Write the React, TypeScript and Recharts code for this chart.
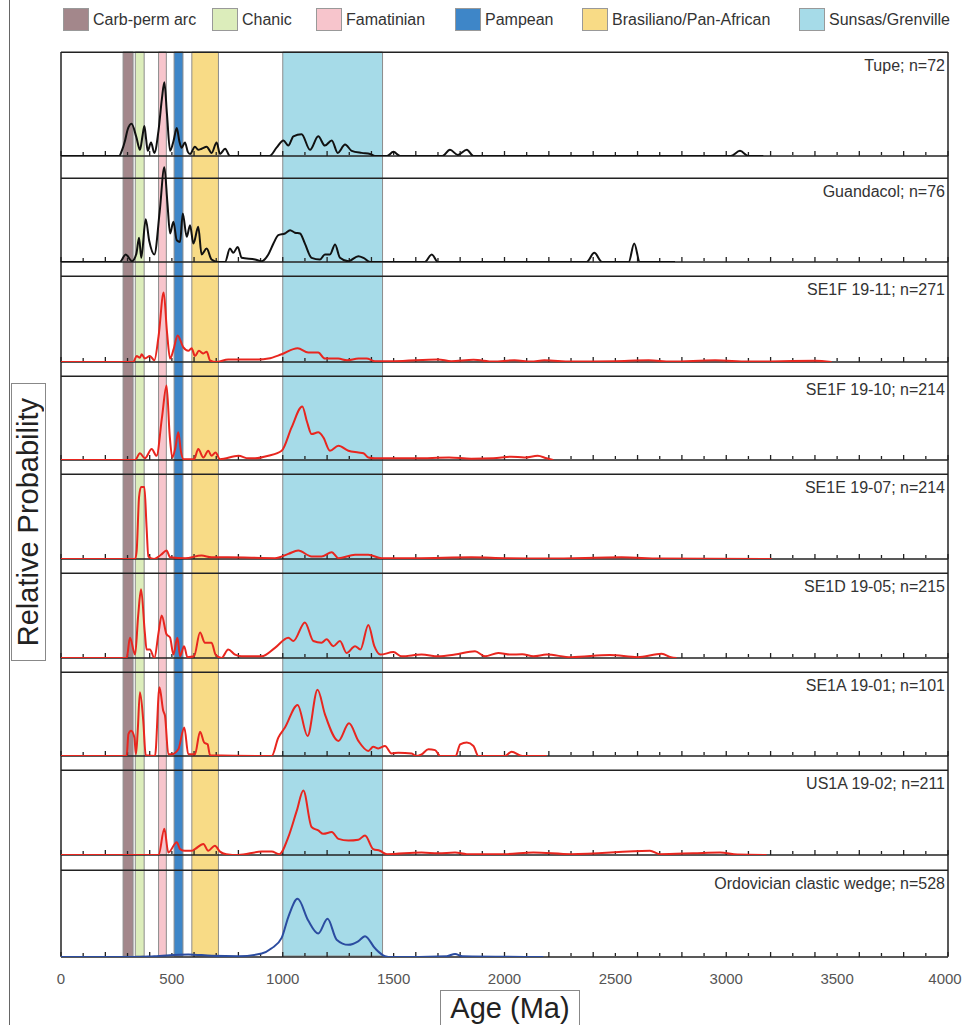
import {
    ComposedChart, LineChart, Line, XAxis, YAxis,
    ReferenceArea, ReferenceLine,
} from "recharts";

// age bands (Ma)
const bandNames = ["Carb-perm arc", "Chanic", "Famatinian", "Pampean", "Brasiliano/Pan-African", "Sunsas/Grenville"];
const bandFrom = [280, 335, 440, 510, 590, 1000];
const bandTo = [325, 375, 475, 550, 710, 1450];
const bandColors = ["#a3878b", "#dcedbb", "#f7c5cc", "#3e86c8", "#f8db86", "#a6dbe8"];

const ageLabels = [0, 500, 1000, 1500, 2000, 2500, 3000, 3500, 4000];
const majorTicks = [0, 200, 400, 600, 800, 1000, 1200, 1400, 1600, 1800, 2000, 2200, 2400, 2600, 2800, 3000, 3200, 3400, 3600, 3800, 4000];
const minorTicks = [100, 300, 500, 700, 900, 1100, 1300, 1500, 1700, 1900, 2100, 2300, 2500, 2700, 2900, 3100, 3300, 3500, 3700, 3900];

// probability density curves, [age Ma, relative probability]
const tupe: [number, number][] = [[0, 0], [262, 0], [274, 0.05], [289, 0.15], [300, 0.25], [318, 0.31], [340, 0.18], [356, 0.06], [368, 0.2], [376, 0.29], [384, 0.16], [391, 0.05], [406, 0.13], [421, 0.03], [440, 0.25], [455, 0.55], [466, 0.71], [478, 0.4], [492, 0.05], [508, 0.15], [522, 0.27], [534, 0.14], [544, 0.08], [559, 0.13], [572, 0.04], [582, 0.02], [604, 0.09], [619, 0.06], [634, 0.07], [657, 0.09], [679, 0.03], [702, 0.13], [717, 0.02], [740, 0.07], [762, 0], [940, 0], [972, 0.08], [1003, 0.15], [1025, 0.1], [1048, 0.19], [1085, 0.21], [1123, 0.06], [1160, 0.19], [1190, 0.1], [1221, 0.15], [1248, 0.03], [1281, 0.11], [1311, 0.05], [1356, 0.03], [1394, 0.02], [1416, 0], [1470, 0], [1499, 0.04], [1530, 0], [1720, 0], [1754, 0.06], [1790, 0.01], [1830, 0.06], [1860, 0], [3020, 0], [3062, 0.05], [3100, 0], [3167, 0]];
const guandacol: [number, number][] = [[0, 0], [265, 0], [292, 0.09], [320, 0.01], [340, 0.1], [352, 0.29], [362, 0.05], [382, 0.51], [398, 0.25], [421, 0.09], [445, 0.6], [466, 1.13], [480, 0.7], [492, 0.34], [507, 0.48], [522, 0.26], [537, 0.24], [549, 0.58], [567, 0.3], [582, 0.44], [597, 0.22], [619, 0.42], [634, 0.09], [657, 0.16], [679, 0.03], [710, 0], [740, 0], [762, 0.16], [777, 0.11], [797, 0.18], [815, 0.05], [875, 0.03], [905, 0.01], [935, 0.09], [958, 0.22], [980, 0.32], [1010, 0.34], [1033, 0.38], [1055, 0.35], [1078, 0.34], [1100, 0.22], [1130, 0.05], [1168, 0.03], [1190, 0.09], [1213, 0.09], [1236, 0.21], [1258, 0.05], [1296, 0.01], [1341, 0.07], [1364, 0.05], [1394, 0], [1640, 0], [1672, 0.09], [1700, 0], [2370, 0], [2405, 0.11], [2440, 0], [2560, 0], [2585, 0.22], [2610, 0], [2769, 0]];
const se1f1911: [number, number][] = [[0, 0], [326, 0], [341, 0.07], [356, 0.05], [364, 0.09], [378, 0.04], [401, 0.07], [421, 0.02], [440, 0.3], [463, 0.81], [478, 0.35], [492, 0.04], [508, 0.15], [526, 0.31], [552, 0.17], [574, 0.13], [589, 0.16], [604, 0.07], [622, 0.13], [642, 0.1], [657, 0.12], [672, 0.02], [700, 0], [754, 0.03], [815, 0.03], [890, 0.03], [935, 0.04], [995, 0.09], [1067, 0.16], [1115, 0.11], [1160, 0.11], [1190, 0.04], [1250, 0.04], [1290, 0.02], [1341, 0.04], [1378, 0.04], [1416, 0.01], [1500, 0.01], [1700, 0.03], [1760, 0.01], [1860, 0.025], [1950, 0.005], [2045, 0.02], [2120, 0.005], [2180, 0.02], [2300, 0.005], [2500, 0.01], [2650, 0.02], [2750, 0.005], [2950, 0.02], [3100, 0.005], [3400, 0.015], [3475, 0]];
const se1f1910: [number, number][] = [[0, 0], [334, 0], [356, 0.08], [378, 0.02], [409, 0.13], [431, 0.05], [455, 0.5], [476, 0.89], [490, 0.3], [502, 0.03], [516, 0.15], [529, 0.33], [541, 0.1], [552, 0.01], [600, 0.01], [619, 0.13], [642, 0.03], [664, 0.11], [679, 0.05], [697, 0.09], [717, 0.01], [800, 0.05], [845, 0.02], [875, 0.02], [935, 0.05], [995, 0.11], [1040, 0.39], [1088, 0.64], [1110, 0.45], [1130, 0.31], [1160, 0.33], [1183, 0.27], [1213, 0.11], [1251, 0.17], [1296, 0.11], [1341, 0.09], [1364, 0.08], [1386, 0.03], [1416, 0.02], [1600, 0.02], [1750, 0.03], [1850, 0.015], [1950, 0.02], [2030, 0.04], [2090, 0.03], [2150, 0.05], [2190, 0.02], [2220, 0]];
const se1e1907: [number, number][] = [[0, 0], [334, 0], [341, 0.09], [352, 0.73], [361, 0.85], [376, 0.85], [386, 0.37], [394, 0.03], [420, 0], [451, 0.05], [476, 0.1], [492, 0.02], [560, 0.01], [634, 0.04], [679, 0.02], [754, 0.02], [965, 0.01], [1025, 0.06], [1070, 0.1], [1130, 0.03], [1175, 0.03], [1221, 0.08], [1251, 0.01], [1326, 0.05], [1386, 0.05], [1446, 0.01], [1600, 0.01], [1850, 0.02], [2000, 0.01], [2200, 0.005], [2528, 0.02], [2700, 0.005], [3205, 0]];
const se1d1905: [number, number][] = [[0, 0], [296, 0], [311, 0.24], [334, 0.04], [348, 0.5], [361, 0.81], [378, 0.3], [386, 0.1], [401, 0.1], [421, 0], [440, 0.3], [454, 0.5], [476, 0.28], [492, 0.24], [507, 0.04], [525, 0.24], [537, 0.02], [555, 0.14], [570, 0.01], [600, 0.02], [627, 0.3], [649, 0.18], [679, 0.18], [697, 0.04], [724, 0], [754, 0.1], [785, 0.04], [815, 0.02], [905, 0.02], [965, 0.12], [1025, 0.24], [1048, 0.2], [1100, 0.42], [1138, 0.2], [1175, 0.18], [1198, 0.22], [1228, 0.14], [1258, 0.2], [1288, 0.06], [1326, 0.14], [1350, 0.1], [1386, 0.39], [1413, 0.14], [1440, 0.04], [1499, 0.07], [1536, 0.02], [1626, 0.04], [1702, 0.02], [1777, 0.04], [1867, 0.08], [1912, 0.02], [1972, 0.06], [2025, 0.04], [2080, 0.045], [2130, 0.02], [2190, 0.04], [2300, 0.01], [2475, 0.035], [2600, 0.01], [2709, 0.05], [2750, 0.01], [2776, 0]];
const se1a1901: [number, number][] = [[0, 0], [296, 0], [304, 0.26], [316, 0.3], [331, 0.22], [338, 0.02], [346, 0.3], [356, 0.76], [371, 0.42], [382, 0.01], [424, 0], [444, 0.82], [461, 0.54], [469, 0.48], [484, 0.02], [499, 0.02], [529, 0.08], [556, 0.34], [574, 0.02], [604, 0.02], [627, 0.29], [646, 0.16], [661, 0.14], [672, 0.01], [950, 0], [980, 0.22], [1010, 0.34], [1067, 0.61], [1112, 0.24], [1157, 0.79], [1190, 0.5], [1251, 0.18], [1299, 0.39], [1341, 0.18], [1386, 0.06], [1408, 0.11], [1431, 0.09], [1461, 0.12], [1491, 0.03], [1521, 0.04], [1582, 0.03], [1600, 0], [1626, 0.02], [1657, 0.08], [1687, 0.07], [1710, 0], [1780, 0], [1800, 0.14], [1830, 0.16], [1860, 0.12], [1882, 0], [2000, 0], [2032, 0.05], [2080, 0], [2190, 0]];
const us1a1902: [number, number][] = [[0, 0], [440, 0], [466, 0.31], [484, 0.03], [522, 0.15], [537, 0.07], [559, 0.05], [589, 0.05], [604, 0.07], [642, 0.13], [664, 0.05], [694, 0.11], [717, 0.04], [745, 0.01], [800, 0], [905, 0.04], [950, 0.04], [985, 0.01], [1025, 0.21], [1063, 0.52], [1093, 0.76], [1130, 0.33], [1160, 0.29], [1183, 0.25], [1221, 0.27], [1251, 0.19], [1296, 0.17], [1341, 0.18], [1371, 0.23], [1408, 0.07], [1438, 0.05], [1470, 0.01], [1626, 0.03], [1702, 0.02], [1777, 0.03], [1830, 0.01], [2000, 0.01], [2130, 0.03], [2300, 0.01], [2656, 0.05], [2700, 0.01], [2850, 0.02], [2972, 0.03], [3050, 0.005], [3182, 0]];
const ordovician: [number, number][] = [[0, 0], [330, 0], [420, 0.01], [574, 0.03], [680, 0.015], [800, 0.01], [905, 0.04], [950, 0.1], [995, 0.22], [1025, 0.46], [1067, 0.67], [1115, 0.42], [1160, 0.27], [1202, 0.44], [1243, 0.2], [1296, 0.14], [1340, 0.18], [1371, 0.24], [1416, 0.1], [1461, 0.01], [1490, 0], [1740, 0.01], [1777, 0.035], [1810, 0.01], [2175, 0]];

const sampleNames = ["Tupe; n=72", "Guandacol; n=76", "SE1F 19-11; n=271", "SE1F 19-10; n=214", "SE1E 19-07; n=214", "SE1D 19-05; n=215", "SE1A 19-01; n=101", "US1A 19-02; n=211", "Ordovician clastic wedge; n=528"];
const sampleCurves = [tupe, guandacol, se1f1911, se1f1910, se1e1907, se1d1905, se1a1901, us1a1902, ordovician];
const sampleColors = ["#111", "#111", "#e8261f", "#e8261f", "#e8261f", "#e8261f", "#e8261f", "#e8261f", "#2b4ca0"];

// layout (page pixels)
const W = 963;
const PLOT_L = 61;
const PLOT_R = 948;
const panelTop = [52, 178, 276, 376, 474, 573, 672, 770, 870];
const panelBase = [155, 261, 361, 459, 558, 657, 755, 854, 956];
const PAD = 24;
const legendLeft = [63, 212, 316, 455, 582, 799];

const FRAME = "#222";

const AgeTick = (props: any) => {
    const { x, y, payload } = props;
    const dx = payload.value === 4000 ? -3 : 0;
    return (
        <text x={x + dx} y={y} dy="0.71em" textAnchor="middle" fill="#555" fontSize={15}>
            {payload.value}
        </text>
    );
};

const NoLabel = () => <g />;

const Panel = ({ i }: { i: number }) => {
    const h = panelBase[i] - panelTop[i];
    const rows = sampleCurves[i].map(([age, p]) => ({ age, p }));
    const size = { width: W, height: PAD + h + 4 };
    const margin = { top: 0, right: W - PLOT_R, bottom: 3, left: PLOT_L };
    return (
        <div style={{ position: "absolute", left: 0, top: panelTop[i] - PAD, width: W, height: size.height }}>
            {/* frame: top edge, baseline and ticks */}
            <div style={{ position: "absolute", left: 0, top: 0 }}>
                <LineChart {...size} data={rows} margin={margin}>
                    <XAxis type="number" dataKey="age" domain={[0, 4000]} ticks={majorTicks}
                        mirror tick={NoLabel} tickSize={5} height={1} allowDataOverflow
                        axisLine={{ stroke: FRAME, strokeWidth: 1.5 }}
                        tickLine={{ stroke: FRAME, strokeWidth: 1.3 }} />
                    <XAxis xAxisId="minor" type="number" dataKey="age" domain={[0, 4000]} ticks={minorTicks}
                        mirror tick={NoLabel} tickSize={3} height={1} axisLine={false} allowDataOverflow
                        tickLine={{ stroke: FRAME, strokeWidth: 1.3 }} />
                    <YAxis type="number" domain={[0, 1 + PAD / h]} allowDataOverflow hide />
                    <ReferenceLine y={1} stroke={FRAME} strokeWidth={1.5} />
                </LineChart>
            </div>
            {/* density curve drawn over the baseline */}
            <div style={{ position: "absolute", left: 0, top: 0 }}>
                <LineChart {...size} data={rows} margin={margin}>
                    <XAxis type="number" dataKey="age" domain={[0, 4000]} height={1} allowDataOverflow hide />
                    <YAxis type="number" domain={[0, 1 + PAD / h]} allowDataOverflow hide />
                    <Line type="monotone" dataKey="p" stroke={sampleColors[i]} strokeWidth={2}
                        dot={false} isAnimationActive={false} />
                </LineChart>
            </div>
            <div style={{
                position: "absolute", right: W - 945, top: PAD + 6, fontSize: 16,
                lineHeight: "16px", color: "#333", whiteSpace: "nowrap",
            }}>
                {sampleNames[i]}
            </div>
        </div>
    );
};

const App = () => {
    return (
        <div style={{
            position: "absolute", left: 0, top: 0, width: W, height: 1025, overflow: "hidden",
            background: "#fff", fontFamily: "Arial, 'Liberation Sans', sans-serif",
        }}>
            <div style={{ position: "absolute", left: 9, top: 0, height: 1025, borderLeft: "1px solid #666" }} />

            {/* legend */}
            {bandNames.map((name, k) => (
                <div key={name} style={{ position: "absolute", left: legendLeft[k], top: 8, display: "flex", alignItems: "center" }}>
                    <div style={{ width: 24, height: 21, background: bandColors[k], border: "1px solid #999" }} />
                    <span style={{
                        marginLeft: 4, fontSize: 16, color: "#333",
                        fontFamily: "'Liberation Sans Narrow', 'Arial Narrow', Arial, sans-serif",
                    }}>{name}</span>
                </div>
            ))}

            {/* background: age bands, frame sides, age labels */}
            <div style={{ position: "absolute", left: 0, top: 0 }}>
                <ComposedChart width={W} height={1025} data={[{ age: 0 }, { age: 4000 }]}
                    margin={{ top: panelTop[0], right: W - PLOT_R, bottom: 1025 - panelBase[8] - 30, left: PLOT_L }}>
                    <XAxis type="number" dataKey="age" domain={[0, 4000]} ticks={ageLabels} allowDataOverflow
                        height={30} axisLine={false} tickLine={false} tickSize={6} tickMargin={11}
                        tick={<AgeTick />} interval={0} />
                    <YAxis type="number" domain={[0, 1]} allowDataOverflow hide />
                    {bandNames.map((name, k) => (
                        <ReferenceArea key={name} x1={bandFrom[k]} x2={bandTo[k]} y1={0} y2={1}
                            fill={bandColors[k]} fillOpacity={1} stroke="#8c8c8c" strokeWidth={1} />
                    ))}
                    <ReferenceLine x={0} stroke={FRAME} strokeWidth={1.5} />
                    <ReferenceLine x={4000} stroke={FRAME} strokeWidth={1.5} />
                </ComposedChart>
            </div>

            {sampleNames.map((name, i) => <Panel key={name} i={i} />)}

            {/* axis titles */}
            <div style={{
                position: "absolute", left: 11, top: 383, width: 33, height: 276,
                border: "1px solid #888", display: "flex", alignItems: "center", justifyContent: "center",
            }}>
                <span style={{
                    writingMode: "vertical-rl", transform: "rotate(180deg)", fontSize: 29,
                    color: "#222", whiteSpace: "nowrap",
                }}>Relative Probability</span>
            </div>
            <div style={{
                position: "absolute", left: 440, top: 990, width: 138, height: 40,
                border: "1px solid #888", textAlign: "center", fontSize: 29, lineHeight: "34px", color: "#222",
            }}>
                Age (Ma)
            </div>
        </div>
    );
};

export default App;
